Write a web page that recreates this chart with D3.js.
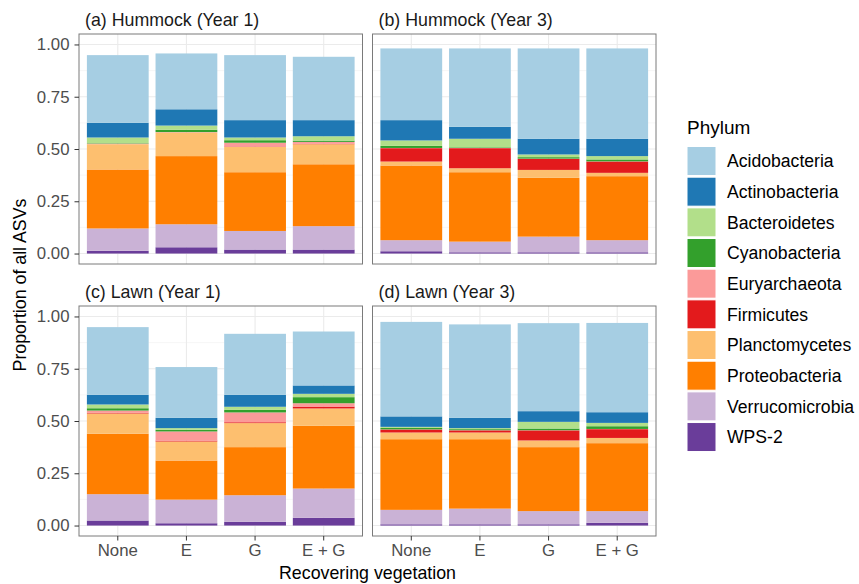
<!DOCTYPE html>
<html>
<head>
<meta charset="utf-8">
<script src="https://cdn.jsdelivr.net/npm/d3@7"></script>
<style>
  html, body { margin: 0; padding: 0; background: #fff; }
  svg { display: block; font-family: "Liberation Sans", Arial, Helvetica, sans-serif; }
</style>
</head>
<body>
<svg id="chart" width="859" height="584"></svg>
<script>
// ---------------- data ----------------
const treatments = ["None", "E", "G", "E + G"];
const panels = ["(a) Hummock (Year 1)", "(b) Hummock (Year 3)", "(c) Lawn (Year 1)", "(d) Lawn (Year 3)"];
const phyla = ["Acidobacteria", "Actinobacteria", "Bacteroidetes", "Cyanobacteria", "Euryarchaeota",
               "Firmicutes", "Planctomycetes", "Proteobacteria", "Verrucomicrobia", "WPS-2"];
const phylumColors = ["#A6CEE3", "#1F78B4", "#B2DF8A", "#33A02C", "#FB9A99",
                      "#E31A1C", "#FDBF6F", "#FF7F00", "#CAB2D6", "#6A3D9A"];
const yTicks = [0, 0.25, 0.5, 0.75, 1.0];
const yTickLabels = ["0.00", "0.25", "0.50", "0.75", "1.00"];

// values per phylum: panel (a) None,E,G,E+G | (b) | (c) | (d)
const wps2            = [0.013,0.030,0.019,0.019, 0.011,0.006,0.006,0.006, 0.024,0.011,0.018,0.037, 0.006,0.006,0.006,0.013];
const verrucomicrobia = [0.107,0.110,0.089,0.112, 0.053,0.051,0.075,0.058, 0.126,0.113,0.127,0.140, 0.069,0.075,0.063,0.056];
const proteobacteria  = [0.282,0.326,0.281,0.296, 0.357,0.332,0.281,0.306, 0.289,0.187,0.230,0.300, 0.338,0.332,0.306,0.325];
const planctomycetes  = [0.121,0.113,0.121,0.096, 0.019,0.019,0.038,0.016, 0.097,0.091,0.115,0.083, 0.032,0.032,0.032,0.025];
const firmicutes      = [0.000,0.000,0.002,0.002, 0.064,0.096,0.053,0.054, 0.003,0.004,0.004,0.009, 0.014,0.010,0.048,0.042];
const euryarchaeota   = [0.003,0.002,0.018,0.009, 0.001,0.001,0.001,0.001, 0.011,0.044,0.047,0.016, 0.001,0.001,0.001,0.001];
const cyanobacteria   = [0.002,0.011,0.012,0.006, 0.010,0.003,0.007,0.009, 0.011,0.008,0.012,0.029, 0.007,0.005,0.008,0.013];
const bacteroidetes   = [0.027,0.020,0.013,0.021, 0.026,0.041,0.013,0.016, 0.018,0.008,0.015,0.016, 0.005,0.005,0.032,0.016];
const actinobacteria  = [0.070,0.078,0.083,0.077, 0.097,0.057,0.075,0.083, 0.046,0.049,0.057,0.040, 0.050,0.049,0.051,0.051];
const acidobacteria   = [0.324,0.267,0.311,0.303, 0.343,0.375,0.432,0.432, 0.324,0.243,0.292,0.258, 0.452,0.447,0.421,0.427];

const valuesByPhylum = {
  "Acidobacteria": acidobacteria, "Actinobacteria": actinobacteria, "Bacteroidetes": bacteroidetes,
  "Cyanobacteria": cyanobacteria, "Euryarchaeota": euryarchaeota, "Firmicutes": firmicutes,
  "Planctomycetes": planctomycetes, "Proteobacteria": proteobacteria, "Verrucomicrobia": verrucomicrobia,
  "WPS-2": wps2
};

// ---------------- layout ----------------
const svg = d3.select("#chart");
svg.append("rect").attr("width", 859).attr("height", 584).attr("fill", "#fff");

const colX = [[79, 362.5], [372.5, 656]];
const rowY = [[34, 264], [306, 536]];
const color = d3.scaleOrdinal().domain(phyla).range(phylumColors);
const stackOrder = phyla.slice().reverse(); // WPS-2 at bottom

const axisText = "#4D4D4D";

panels.forEach((title, p) => {
  const col = p % 2, row = Math.floor(p / 2);
  const [x0, x1] = colX[col];
  const [y0, y1] = rowY[row];
  const x = d3.scaleBand().domain(treatments).range([x0, x1]).paddingInner(0.1).paddingOuter(0.115);
  const y = d3.scaleLinear().domain([-0.05, 1.05]).range([y1, y0]);
  const g = svg.append("g");

  // grid
  const minor = [0.125, 0.375, 0.625, 0.875];
  g.selectAll(".gmin").data(minor).join("line")
    .attr("x1", x0).attr("x2", x1).attr("y1", d => y(d)).attr("y2", d => y(d))
    .attr("stroke", "#F2F2F2").attr("stroke-width", 0.6);
  g.selectAll(".gmaj").data(yTicks).join("line")
    .attr("x1", x0).attr("x2", x1).attr("y1", d => y(d)).attr("y2", d => y(d))
    .attr("stroke", "#EBEBEB").attr("stroke-width", 1.1);
  g.selectAll(".gx").data(treatments).join("line")
    .attr("x1", d => x(d) + x.bandwidth() / 2).attr("x2", d => x(d) + x.bandwidth() / 2)
    .attr("y1", y0).attr("y2", y1)
    .attr("stroke", "#EBEBEB").attr("stroke-width", 1.1);

  // stacked bars
  const rows = treatments.map((t, i) => {
    const o = { treatment: t };
    phyla.forEach(ph => { o[ph] = valuesByPhylum[ph][p * 4 + i]; });
    return o;
  });
  const series = d3.stack().keys(stackOrder)(rows);
  g.selectAll(".layer").data(series).join("g")
    .attr("fill", d => color(d.key))
    .selectAll("rect").data(d => d).join("rect")
    .attr("x", d => x(d.data.treatment))
    .attr("width", x.bandwidth())
    .attr("y", d => y(d[1]))
    .attr("height", d => Math.max(0, y(d[0]) - y(d[1])));

  // border
  g.append("rect").attr("x", x0).attr("y", y0).attr("width", x1 - x0).attr("height", y1 - y0)
    .attr("fill", "none").attr("stroke", "#7A7A7A").attr("stroke-width", 1);

  // strip label
  svg.append("text").attr("x", x0 + 6).attr("y", y0 - 8)
    .attr("font-size", 17.8).attr("fill", "#1A1A1A").text(title);

  // y axis (left column)
  if (col === 0) {
    const ya = svg.append("g").attr("transform", `translate(${x0},0)`)
      .call(d3.axisLeft(y).tickValues(yTicks).tickFormat((d, i) => yTickLabels[i]).tickSize(4.5).tickPadding(5));
    ya.select(".domain").remove();
    ya.selectAll("line").attr("stroke", "#333333").attr("stroke-width", 1);
    ya.selectAll("text").attr("font-size", 16.8).attr("fill", axisText).attr("font-family", null);
  }
  // x axis (bottom row)
  if (row === 1) {
    const xa = svg.append("g").attr("transform", `translate(0,${y1})`)
      .call(d3.axisBottom(x).tickSize(4.5).tickPadding(4));
    xa.select(".domain").remove();
    xa.selectAll("line").attr("stroke", "#333333").attr("stroke-width", 1);
    xa.selectAll("text").attr("font-size", 16.8).attr("fill", axisText).attr("font-family", null);
  }
});

// axis titles
svg.append("text").attr("x", (79 + 656) / 2).attr("y", 579).attr("text-anchor", "middle")
  .attr("font-size", 17.8).attr("fill", "#000").text("Recovering vegetation");
svg.append("text").attr("transform", `translate(26,${(34 + 536) / 2}) rotate(-90)`)
  .attr("text-anchor", "middle").attr("font-size", 17.8).attr("fill", "#000").text("Proportion of all ASVs");

// legend
const lg = svg.append("g");
lg.append("text").attr("x", 687).attr("y", 134).attr("font-size", 19).attr("fill", "#000").text("Phylum");
const keyStep = 30.67;
phyla.forEach((ph, i) => {
  const ky = 146.5 + i * keyStep;
  lg.append("rect").attr("x", 687).attr("y", ky).attr("width", 29).attr("height", 29)
    .attr("fill", color(ph)).attr("stroke", "#fff").attr("stroke-width", 1);
  lg.append("text").attr("x", 727).attr("y", ky + 14.5).attr("dy", "0.35em")
    .attr("font-size", 17.6).attr("fill", "#000").text(ph);
});
</script>
</body>
</html>
